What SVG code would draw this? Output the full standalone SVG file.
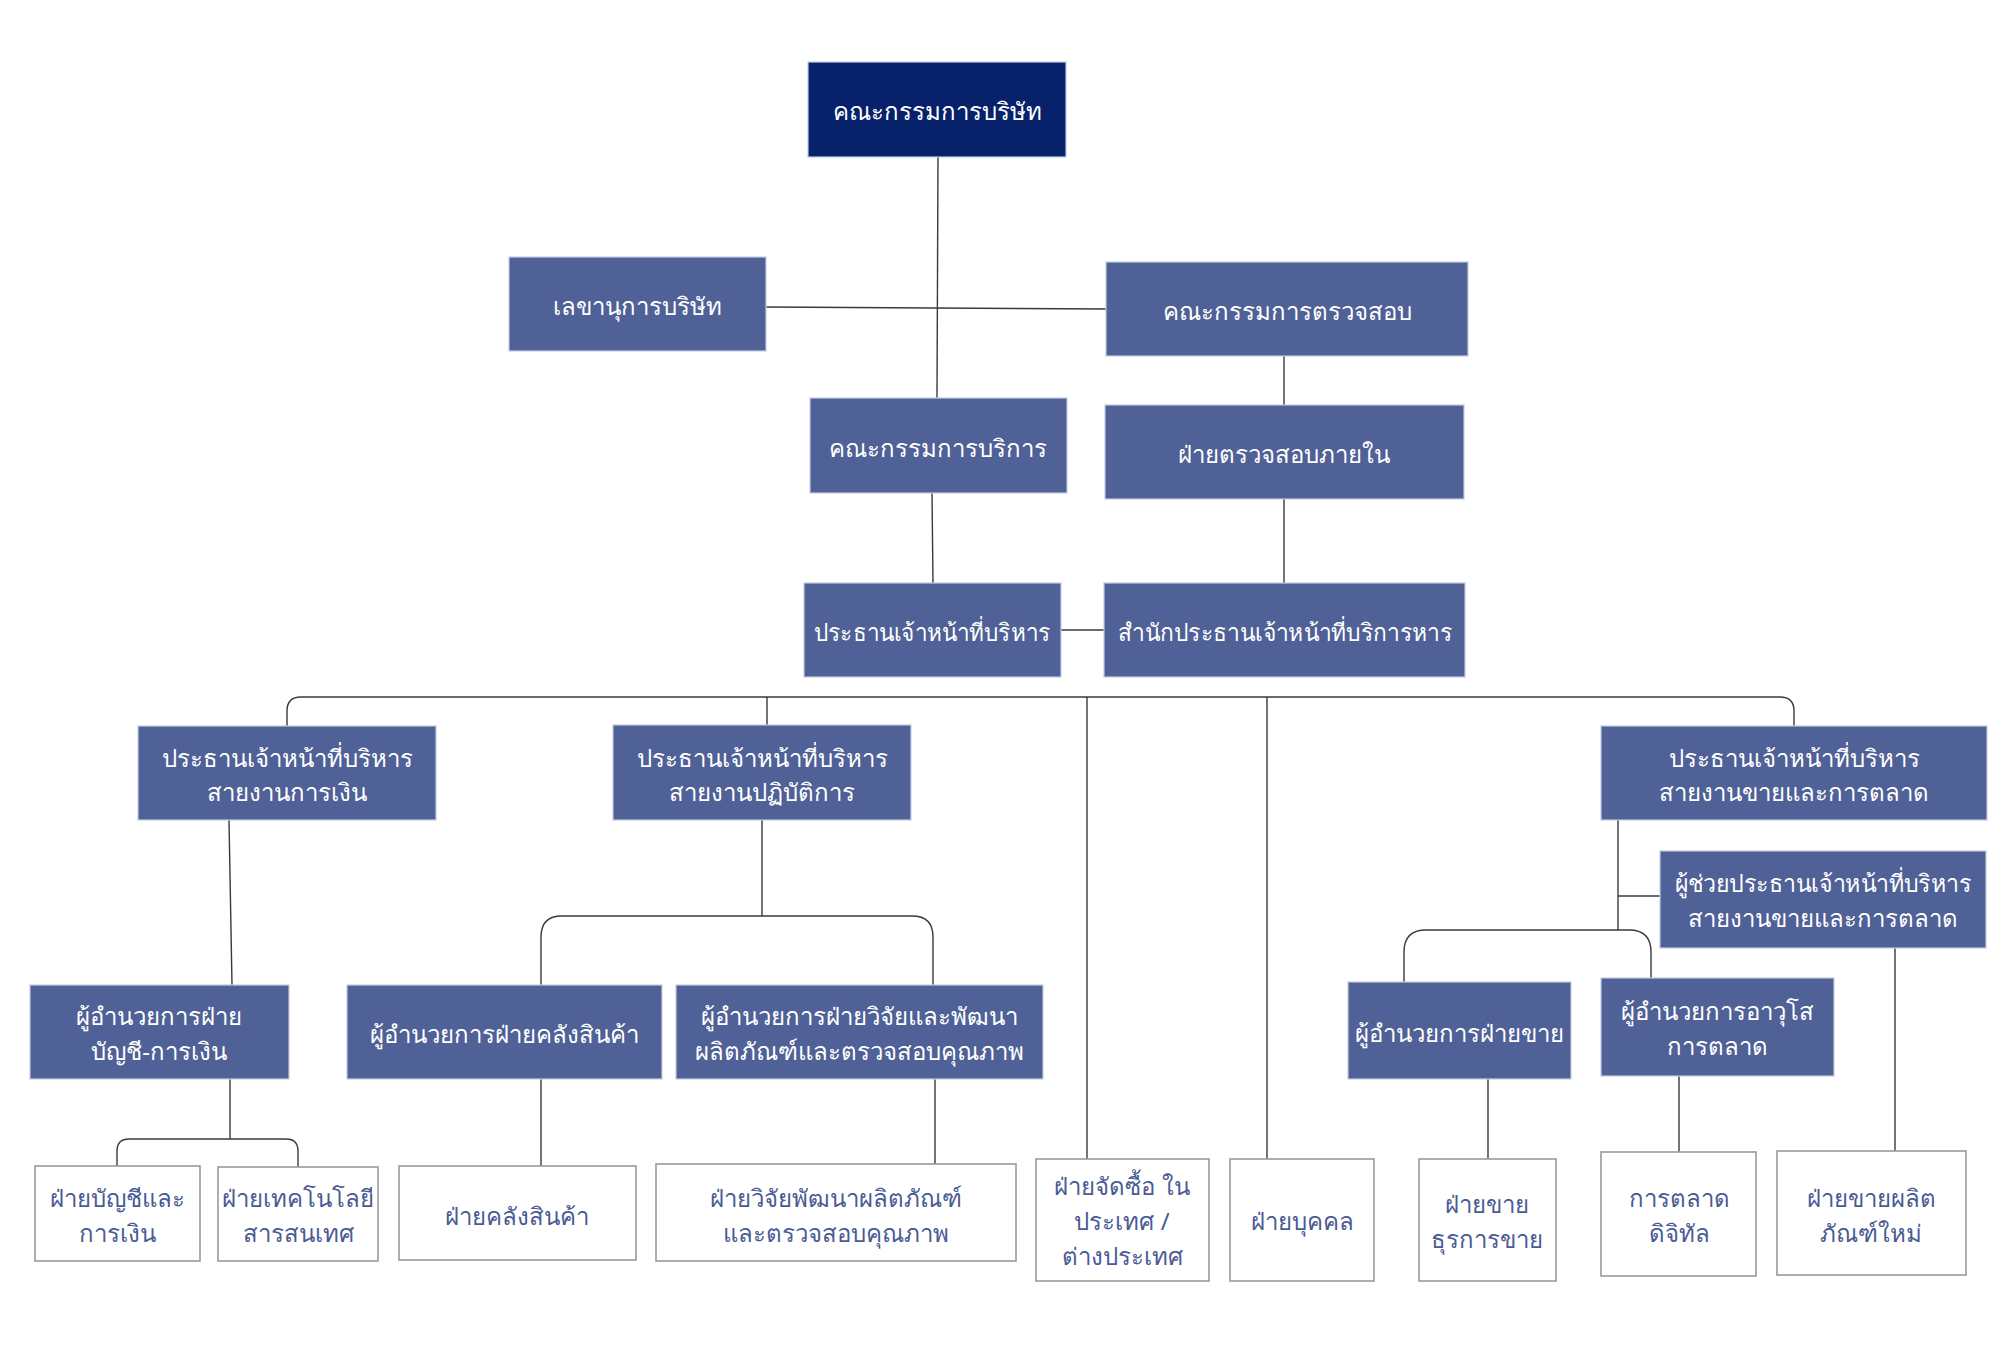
<svg xmlns="http://www.w3.org/2000/svg" width="2000" height="1358" viewBox="0 0 2000 1358">
<style>
.f{fill:#4f6196;stroke:#c3cbe0;stroke-width:1.2}
.d{fill:#08216b;stroke:#c3cbe0;stroke-width:1.2}
.w{fill:#ffffff;stroke:#9a9a9a;stroke-width:1.6}
text{font-family:"Noto Sans","Liberation Sans",sans-serif;font-size:24px;text-anchor:middle;dominant-baseline:central}
.t{fill:#ffffff}
.b{fill:#4a5b94}
.c{fill:none;stroke:#3a3a3a;stroke-width:1.4}
</style>
<rect width="2000" height="1358" fill="#ffffff"/>
<g id="connectors" class="c">
<path d="M938,157 L937,398"/>
<path d="M766,307 L1106,309"/>
<path d="M1284,356 V405"/>
<path d="M932,493 L933,583"/>
<path d="M1284,499 V583"/>
<path d="M1061,630 H1104"/>
<path d="M287,726 V711 Q287,697 301,697 H1780 Q1794,697 1794,711 V726"/>
<path d="M767,697 V725"/>
<path d="M1087,697 V1159"/>
<path d="M1267,697 V1159"/>
<path d="M229,820 L232,985"/>
<path d="M762,820 V916"/>
<path d="M541,985 V937 Q541,916 562,916 H912 Q933,916 933,937 V985"/>
<path d="M230,1079 V1139"/>
<path d="M117,1166 V1151 Q117,1139 129,1139 H286 Q298,1139 298,1151 V1167"/>
<path d="M541,1079 V1166"/>
<path d="M935,1079 V1164"/>
<path d="M1618,820 V930"/>
<path d="M1618,896 H1660"/>
<path d="M1404,982 V952 Q1404,930 1426,930 H1629 Q1651,930 1651,952 V978"/>
<path d="M1488,1079 V1159"/>
<path d="M1679,1076 V1152"/>
<path d="M1895,948 V1151"/>
</g>
<g id="n1"><rect class="d" x="808" y="62" width="258" height="95"/><text class="t" x="937" y="110">คณะกรรมการบริษัท</text></g>
<g id="n2"><rect class="f" x="509" y="257" width="257" height="94"/><text class="t" x="637" y="305">เลขานุการบริษัท</text></g>
<g id="n3"><rect class="f" x="1106" y="262" width="362" height="94"/><text class="t" x="1287" y="310">คณะกรรมการตรวจสอบ</text></g>
<g id="n4"><rect class="f" x="810" y="398" width="257" height="95"/><text class="t" x="938" y="447">คณะกรรมการบริการ</text></g>
<g id="n5"><rect class="f" x="1105" y="405" width="359" height="94"/><text class="t" x="1284" y="453">ฝ่ายตรวจสอบภายใน</text></g>
<g id="n6"><rect class="f" x="804" y="583" width="257" height="94"/><text class="t" x="932" y="631" textLength="236" lengthAdjust="spacingAndGlyphs">ประธานเจ้าหน้าที่บริหาร</text></g>
<g id="n7"><rect class="f" x="1104" y="583" width="361" height="94"/><text class="t" x="1285" y="631" textLength="334" lengthAdjust="spacingAndGlyphs">สำนักประธานเจ้าหน้าที่บริการหาร</text></g>
<g id="n8"><rect class="f" x="138" y="726" width="298" height="94"/><text class="t" x="287" y="757">ประธานเจ้าหน้าที่บริหาร</text><text class="t" x="287" y="791">สายงานการเงิน</text></g>
<g id="n9"><rect class="f" x="613" y="725" width="298" height="95"/><text class="t" x="762" y="757">ประธานเจ้าหน้าที่บริหาร</text><text class="t" x="762" y="791">สายงานปฏิบัติการ</text></g>
<g id="n10"><rect class="f" x="1601" y="726" width="386" height="94"/><text class="t" x="1794" y="757">ประธานเจ้าหน้าที่บริหาร</text><text class="t" x="1794" y="791">สายงานขายและการตลาด</text></g>
<g id="n11"><rect class="f" x="1660" y="851" width="326" height="97"/><text class="t" x="1823" y="882" textLength="297" lengthAdjust="spacingAndGlyphs">ผู้ช่วยประธานเจ้าหน้าที่บริหาร</text><text class="t" x="1823" y="917">สายงานขายและการตลาด</text></g>
<g id="n12"><rect class="f" x="1348" y="982" width="223" height="97"/><text class="t" x="1459" y="1032">ผู้อำนวยการฝ่ายขาย</text></g>
<g id="n13"><rect class="f" x="1601" y="978" width="233" height="98"/><text class="t" x="1717" y="1010">ผู้อำนวยการอาวุโส</text><text class="t" x="1717" y="1045">การตลาด</text></g>
<g id="n14"><rect class="f" x="30" y="985" width="259" height="94"/><text class="t" x="159" y="1015">ผู้อำนวยการฝ่าย</text><text class="t" x="159" y="1050">บัญชี-การเงิน</text></g>
<g id="n15"><rect class="f" x="347" y="985" width="315" height="94"/><text class="t" x="504" y="1033">ผู้อำนวยการฝ่ายคลังสินค้า</text></g>
<g id="n16"><rect class="f" x="676" y="985" width="367" height="94"/><text class="t" x="859" y="1015">ผู้อำนวยการฝ่ายวิจัยและพัฒนา</text><text class="t" x="859" y="1050">ผลิตภัณฑ์และตรวจสอบคุณภาพ</text></g>
<g id="n17"><rect class="w" x="35" y="1166" width="165" height="95"/><text class="b" x="117" y="1197">ฝ่ายบัญชีและ</text><text class="b" x="117" y="1232">การเงิน</text></g>
<g id="n18"><rect class="w" x="218" y="1167" width="160" height="94"/><text class="b" x="298" y="1197">ฝ่ายเทคโนโลยี</text><text class="b" x="298" y="1232">สารสนเทศ</text></g>
<g id="n19"><rect class="w" x="399" y="1166" width="237" height="94"/><text class="b" x="517" y="1215">ฝ่ายคลังสินค้า</text></g>
<g id="n20"><rect class="w" x="656" y="1164" width="360" height="97"/><text class="b" x="836" y="1197">ฝ่ายวิจัยพัฒนาผลิตภัณฑ์</text><text class="b" x="836" y="1232">และตรวจสอบคุณภาพ</text></g>
<g id="n21"><rect class="w" x="1036" y="1159" width="173" height="122"/><text class="b" x="1122" y="1185">ฝ่ายจัดซื้อ ใน</text><text class="b" x="1122" y="1220">ประเทศ /</text><text class="b" x="1122" y="1255">ต่างประเทศ</text></g>
<g id="n22"><rect class="w" x="1230" y="1159" width="144" height="122"/><text class="b" x="1302" y="1220">ฝ่ายบุคคล</text></g>
<g id="n23"><rect class="w" x="1419" y="1159" width="137" height="122"/><text class="b" x="1487" y="1203">ฝ่ายขาย</text><text class="b" x="1487" y="1238">ธุรการขาย</text></g>
<g id="n24"><rect class="w" x="1601" y="1152" width="155" height="124"/><text class="b" x="1679" y="1197">การตลาด</text><text class="b" x="1679" y="1232">ดิจิทัล</text></g>
<g id="n25"><rect class="w" x="1777" y="1151" width="189" height="124"/><text class="b" x="1871" y="1197">ฝ่ายขายผลิต</text><text class="b" x="1871" y="1232">ภัณฑ์ใหม่</text></g>
</svg>
